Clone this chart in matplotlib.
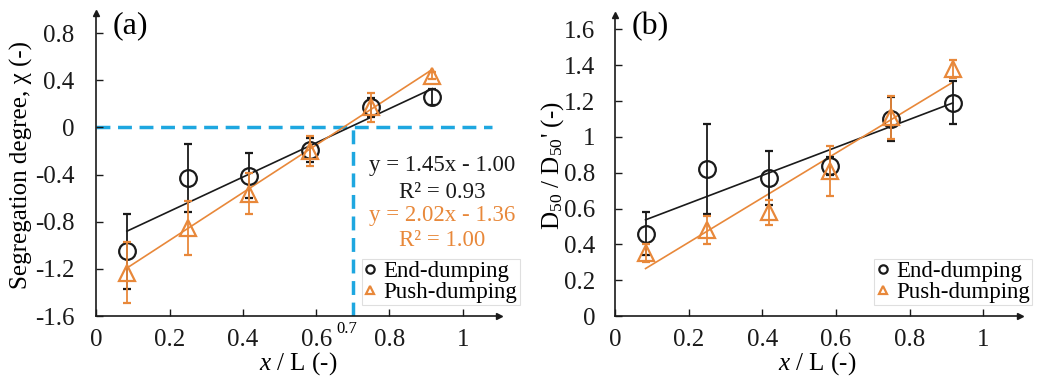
import numpy as np
import matplotlib.pyplot as plt

plt.rcParams['font.family'] = ['Liberation Serif', 'DejaVu Serif']
plt.rcParams['mathtext.fontset'] = 'custom'
plt.rcParams['mathtext.rm'] = 'Liberation Serif'
plt.rcParams['mathtext.it'] = 'Liberation Serif:italic'

BLACK = '#1a1a1a'
ORANGE = '#e8883a'
BLUE = '#1ea7e0'

# sampling positions along the pile
x_pos = [0.083, 0.25, 0.417, 0.583, 0.75, 0.917]

# (a) segregation degree
seg_end = [-1.05, -0.43, -0.41, -0.19, 0.17, 0.26]
seg_end_err = [0.32, 0.29, 0.19, 0.10, 0.08, 0.07]
seg_push = [-1.23, -0.85, -0.56, -0.20, 0.17, 0.44]
seg_push_err = [0.26, 0.23, 0.17, 0.13, 0.12, 0.03]
fit_end = (1.45, -1.00, 0.93)
fit_push = (2.02, -1.36, 1.00)

# (b) normalised median size
d50_end = [0.46, 0.82, 0.77, 0.84, 1.10, 1.19]
d50_end_err = [0.12, 0.25, 0.15, 0.05, 0.12, 0.12]
d50_push = [0.35, 0.48, 0.58, 0.81, 1.11, 1.38]
d50_push_err = [0.05, 0.08, 0.07, 0.14, 0.12, 0.05]

x_ticks = [0, 0.2, 0.4, 0.6, 0.8, 1]
x_ticklabels = ['0', '0.2', '0.4', '0.6', '0.8', '1']
seg_ticks = [-1.6, -1.2, -0.8, -0.4, 0, 0.4, 0.8]
seg_ticklabels = ['-1.6', '-1.2', '-0.8', '-0.4', '0', '0.4', '0.8']
d50_ticks = [0, 0.2, 0.4, 0.6, 0.8, 1, 1.2, 1.4, 1.6]
d50_ticklabels = ['0', '0.2', '0.4', '0.6', '0.8', '1', '1.2', '1.4', '1.6']

TICK_FS = 18
LABEL_FS = 18


def style_axes(ax, ypad):
    for s in ['top', 'right']:
        ax.spines[s].set_visible(False)
    for s in ['left', 'bottom']:
        ax.spines[s].set_linewidth(1.2)
        ax.spines[s].set_color(BLACK)
    ax.tick_params(direction='in', length=5, width=1, labelsize=TICK_FS, colors=BLACK)
    ax.tick_params(axis='x', pad=9)
    ax.tick_params(axis='y', pad=ypad)
    # arrow heads at the axis ends
    ax.plot(1, 0, '>', color=BLACK, ms=5, transform=ax.transAxes, clip_on=False)
    ax.plot(0, 1, '^', color=BLACK, ms=5, transform=ax.transAxes, clip_on=False)


def draw_series(ax, y_end, e_end, y_push, e_push, c_end, c_push):
    xs = np.array([x_pos[0], x_pos[-1]])
    ax.plot(xs, c_end[0] * xs + c_end[1], color=BLACK, lw=1.2, zorder=2)
    ax.plot(xs, c_push[0] * xs + c_push[1], color=ORANGE, lw=1.2, zorder=2)
    ax.errorbar(x_pos, y_end, yerr=e_end, fmt='o', mfc='none', mec=BLACK, ms=12, mew=1.6,
                ecolor=BLACK, elinewidth=1.3, capsize=3, capthick=1.3, label='End-dumping', zorder=3)
    ax.errorbar(x_pos, y_push, yerr=e_push, fmt='^', mfc='none', mec=ORANGE, ms=12, mew=1.6,
                ecolor=ORANGE, elinewidth=1.3, capsize=3, capthick=1.3, label='Push-dumping', zorder=4)


def add_legend(ax, loc):
    h, l = ax.get_legend_handles_labels()
    h = [hh[0] for hh in h]
    leg = ax.legend(h, l, loc='lower right', bbox_to_anchor=loc, fontsize=16.5, frameon=True,
                    fancybox=False, edgecolor='#d8d8d8', handlelength=0.55, handletextpad=0.3,
                    borderpad=0.1, labelspacing=0.0, borderaxespad=0, markerscale=0.5)
    leg.get_frame().set_linewidth(0.8)
    return leg


fig = plt.figure(figsize=(10.52, 3.86), dpi=100)

# ---- (a) ----
ax1 = fig.add_axes([0.0917, 0.181, 0.383, 0.785])
style_axes(ax1, ypad=16)
ax1.set_xlim(0, 1.1)
ax1.set_ylim(-1.6, 0.97)
ax1.axhline(0, xmin=0, xmax=1.08 / 1.1, color=BLUE, lw=2.5, ls=(0, (4, 2.2)), zorder=1)
ax1.plot([0.7, 0.7], [-1.6, 0], color=BLUE, lw=2.5, ls=(0, (4, 2.2)), zorder=1)
c_end = fit_end[:2]
c_push = fit_push[:2]
draw_series(ax1, seg_end, seg_end_err, seg_push, seg_push_err, c_end, c_push)
ax1.set_xticks(x_ticks)
ax1.set_xticklabels(x_ticklabels)
ax1.set_yticks(seg_ticks)
ax1.set_yticklabels(seg_ticklabels)
ax1.set_ylabel('Segregation degree, χ (-)', fontsize=LABEL_FS, labelpad=1)
ax1.set_xlabel('$x$ / L (-)', fontsize=LABEL_FS, labelpad=0)
ax1.text(0.04, 1.005, '(a)', transform=ax1.transAxes, fontsize=23, va='top', ha='left')
ax1.text(0.683, -1.64, '0.7', fontsize=12, ha='center', va='top')
eq_fs = 16.5
ax1.text(0.945, -0.32, 'y = %.2fx - %.2f' % (fit_end[0], -fit_end[1]), fontsize=eq_fs,
         color=BLACK, ha='center', va='center')
ax1.text(0.945, -0.555, 'R² = %.2f' % fit_end[2], fontsize=eq_fs, color=BLACK, ha='center', va='center')
ax1.text(0.945, -0.75, 'y = %.2fx - %.2f' % (fit_push[0], -fit_push[1]), fontsize=eq_fs,
         color=ORANGE, ha='center', va='center')
ax1.text(0.945, -0.96, 'R² = %.2f' % fit_push[2], fontsize=eq_fs, color=ORANGE, ha='center', va='center')
leg1 = add_legend(ax1, (1.05, 0.036))

# ---- (b) ----
ax2 = fig.add_axes([0.5846, 0.181, 0.385, 0.78])
style_axes(ax2, ypad=14)
ax2.set_xlim(0, 1.1)
ax2.set_ylim(0, 1.68)
c_end_b = np.polyfit(x_pos, d50_end, 1)
c_push_b = np.polyfit(x_pos, d50_push, 1)
draw_series(ax2, d50_end, d50_end_err, d50_push, d50_push_err, c_end_b, c_push_b)
ax2.set_xticks(x_ticks)
ax2.set_xticklabels(x_ticklabels)
ax2.set_yticks(d50_ticks)
ax2.set_yticklabels(d50_ticklabels)
ax2.set_ylabel("D$_{50}$ / D$_{50}$' (-)", fontsize=LABEL_FS, labelpad=-1)
ax2.set_xlabel('$x$ / L (-)', fontsize=LABEL_FS, labelpad=0)
ax2.text(0.04, 1.01, '(b)', transform=ax2.transAxes, fontsize=23, va='top', ha='left')
leg2 = add_legend(ax2, (1.03, 0.036))

fig.savefig('out.png', dpi=100)
